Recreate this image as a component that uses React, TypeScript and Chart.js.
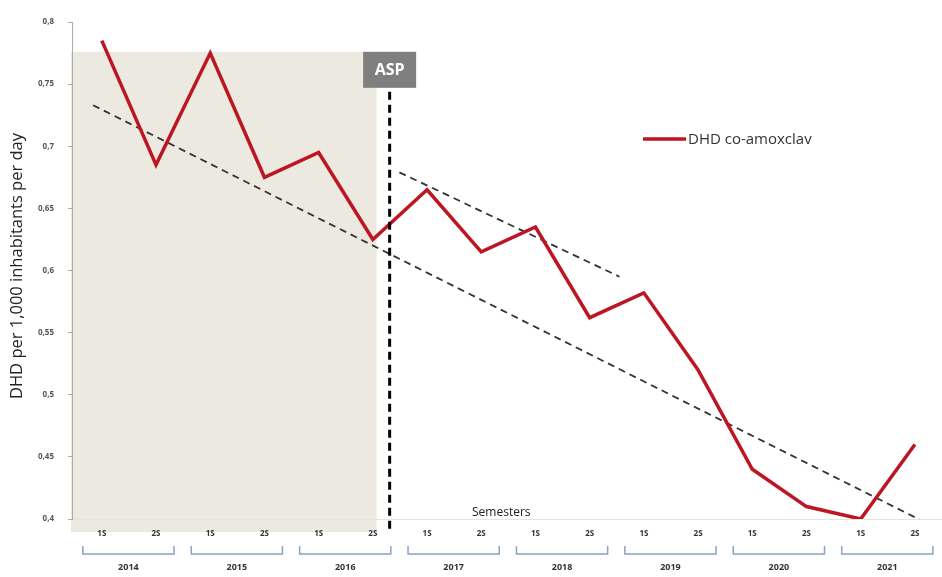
import { useEffect, useRef } from 'react';
import { Chart, registerables } from 'chart.js';

Chart.register(...registerables);

const semesters = ['1S', '2S', '1S', '2S', '1S', '2S', '1S', '2S', '1S', '2S', '1S', '2S', '1S', '2S', '1S', '2S'];
const years = ['2014', '2015', '2016', '2017', '2018', '2019', '2020', '2021'];
const dhdValues = [0.785, 0.685, 0.775, 0.675, 0.695, 0.625, 0.665, 0.615, 0.635, 0.562, 0.582, 0.52, 0.44, 0.41, 0.4, 0.46];
const overallTrendX = [0.84, 16.2];
const overallTrendY = [0.733, 0.397];
const postAspTrendX = [6.49, 10.55];
const postAspTrendY = [0.679, 0.595];
const yTicks = [0.4, 0.45, 0.5, 0.55, 0.6, 0.65, 0.7, 0.75, 0.8];
const aspPosition = 6.31;
const preAspShadeEnd = 6.07;
const preAspShadeTop = 0.776;
const seriesLabel = 'DHD co-amoxclav';
const yTitle = 'DHD per 1,000 inhabitants per day';
const xTitle = 'Semesters';
const aspLabel = 'ASP';

const RED = '#BD1522';

const decor = {
  id: 'decor',
  beforeDraw(chart: any) {
    const { ctx, chartArea } = chart;
    const xs = chart.scales.x;
    const ys = chart.scales.y;
    ctx.save();
    const left = chartArea.left - 1;
    const right = xs.getPixelForValue(preAspShadeEnd);
    const top = ys.getPixelForValue(preAspShadeTop);
    const bottom = chartArea.bottom + 13;
    ctx.fillStyle = '#ECE9E0';
    ctx.fillRect(left, top, right - left, bottom - top);
    ctx.restore();
  },
  afterDatasetsDraw(chart: any) {
    const { ctx, chartArea } = chart;
    const xs = chart.scales.x;
    const ys = chart.scales.y;
    ctx.save();
    // ASP box
    const ax = xs.getPixelForValue(aspPosition);
    const boxTop = ys.getPixelForValue(preAspShadeTop);
    const boxH = 36;
    const boxW = 53;
    ctx.fillStyle = '#7F7F7F';
    ctx.fillRect(ax - boxW / 2, boxTop, boxW, boxH);
    ctx.fillStyle = '#FFFFFF';
    ctx.font = 'bold 16px "Open Sans", sans-serif';
    ctx.textAlign = 'center';
    ctx.textBaseline = 'middle';
    ctx.fillText(aspLabel, ax, boxTop + boxH / 2 + 1);
    // ASP dashed line
    ctx.strokeStyle = '#000';
    ctx.lineWidth = 3;
    ctx.setLineDash([8, 5]);
    ctx.beginPath();
    ctx.moveTo(ax, boxTop + boxH + 4);
    ctx.lineTo(ax, chartArea.bottom + 13);
    ctx.stroke();
    ctx.setLineDash([]);

    // Legend
    ctx.strokeStyle = RED;
    ctx.lineWidth = 3.5;
    ctx.beginPath();
    ctx.moveTo(643, 139);
    ctx.lineTo(686, 139);
    ctx.stroke();
    ctx.fillStyle = '#333';
    ctx.font = '15px "Open Sans", sans-serif';
    ctx.textAlign = 'left';
    ctx.textBaseline = 'middle';
    ctx.fillText(seriesLabel, 688, 140);

    // X title
    ctx.fillStyle = '#222';
    ctx.font = '12px "Open Sans", sans-serif';
    ctx.textAlign = 'left';
    ctx.textBaseline = 'middle';
    ctx.fillText(xTitle, 472, 513);

    // Y title
    ctx.save();
    ctx.translate(17, 266);
    ctx.rotate(-Math.PI / 2);
    ctx.fillStyle = '#222';
    ctx.font = '16.5px "Open Sans", sans-serif';
    ctx.textAlign = 'center';
    ctx.textBaseline = 'middle';
    ctx.fillText(yTitle, 0, 0);
    ctx.restore();

    // Year brackets
    ctx.strokeStyle = '#8AA2C4';
    ctx.lineWidth = 1.5;
    years.forEach((yr, k) => {
      const x1 = xs.getPixelForValue(2 * k + 1) - 19;
      const x2 = xs.getPixelForValue(2 * k + 2) + 18;
      const yb = 554;
      ctx.beginPath();
      ctx.moveTo(x1, yb - 8);
      ctx.lineTo(x1, yb);
      ctx.lineTo(x2, yb);
      ctx.lineTo(x2, yb - 8);
      ctx.stroke();
      ctx.fillStyle = '#333';
      ctx.font = 'bold 9px "Open Sans", sans-serif';
      ctx.textAlign = 'center';
      ctx.textBaseline = 'middle';
      ctx.fillText(yr, (x1 + x2) / 2, 567);
    });
    ctx.restore();
  },
};

export default function App() {
  const ref = useRef<HTMLCanvasElement | null>(null);
  useEffect(() => {
    if (!ref.current) return;
    const chart = new Chart(ref.current, {
      type: 'line',
      data: {
        datasets: [
          {
            label: seriesLabel,
            data: dhdValues.map((v, i) => ({ x: i + 1, y: v })),
            borderColor: RED,
            borderWidth: 3.5,
            pointRadius: 0,
            tension: 0,
            order: 1,
          },
          {
            label: 'trend all',
            data: overallTrendX.map((x, i) => ({ x, y: overallTrendY[i] })),
            borderColor: '#333',
            borderWidth: 1.8,
            borderDash: [7, 5],
            pointRadius: 0,
            order: 2,
          },
          {
            label: 'trend post',
            data: postAspTrendX.map((x, i) => ({ x, y: postAspTrendY[i] })),
            borderColor: '#333',
            borderWidth: 1.8,
            borderDash: [7, 5],
            pointRadius: 0,
            order: 2,
          },
        ],
      },
      options: {
        responsive: false,
        animation: false,
        devicePixelRatio: 1,
        layout: { padding: { top: 22, left: 0, right: 0, bottom: 0 } },
        plugins: { legend: { display: false }, tooltip: { enabled: false } },
        scales: {
          x: {
            type: 'linear',
            min: 0.45,
            max: 16.5,
            afterBuildTicks: (s: any) => {
              s.ticks = semesters.map((_, i) => ({ value: i + 1 }));
            },
            afterFit: (s: any) => {
              s.height = 58;
            },
            ticks: {
              callback: (_v: any, i: number) => semesters[i],
              autoSkip: false,
              maxRotation: 0,
              padding: 2,
              color: '#333',
              font: { size: 8, weight: 'bold', family: '"Open Sans", sans-serif' },
            },
            grid: { display: false },
            border: { color: '#E4E4E4' },
          },
          y: {
            min: 0.4,
            max: 0.8,
            afterBuildTicks: (s: any) => {
              s.ticks = yTicks.map((v) => ({ value: v }));
            },
            afterFit: (s: any) => {
              s.width = 72;
            },
            ticks: {
              callback: (v: any) => String(Number(v).toFixed(2).replace(/0$/, '').replace(/\.0$/, '')).replace('.', ','),
              padding: 14,
              color: '#555',
              font: { size: 8, weight: 'bold', family: '"Open Sans", sans-serif' },
            },
            grid: { drawOnChartArea: false, tickLength: 4, color: '#AAA' },
            border: { color: '#AAA' },
          },
        },
      } as any,
      plugins: [decor],
    });
    return () => chart.destroy();
  }, []);
  return (
    <div style={{ position: 'fixed', left: 0, top: 0, width: 942, height: 577, background: '#fff' }}>
      <canvas ref={ref} width={942} height={577} />
    </div>
  );
}
